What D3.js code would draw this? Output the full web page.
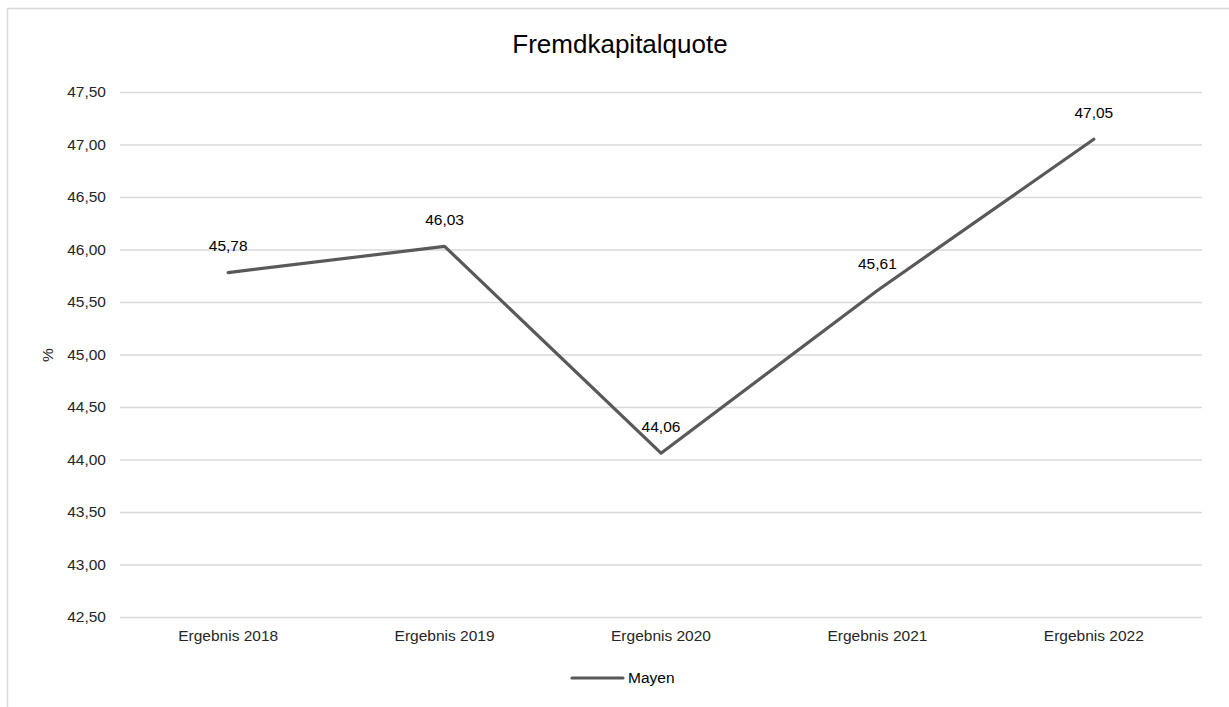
<!DOCTYPE html>
<html>
<head>
<meta charset="utf-8">
<script src="https://cdn.jsdelivr.net/npm/d3@7"></script>
<style>
  body { margin: 0; background: #fff; }
  svg { display: block; font-family: "Liberation Sans", Arial, sans-serif; }
</style>
</head>
<body>
<svg id="chart" width="1229" height="707"></svg>
<script>
// DATA
const categories = ["Ergebnis 2018", "Ergebnis 2019", "Ergebnis 2020", "Ergebnis 2021", "Ergebnis 2022"];
const values = [45.78, 46.03, 44.06, 45.61, 47.05];
const yTicks = [42.5, 43, 43.5, 44, 44.5, 45, 45.5, 46, 46.5, 47, 47.5];
const seriesName = "Mayen";
const title = "Fremdkapitalquote";

// CANVAS SETUP
const svg = d3.select("#chart");
const margin = { top: 92, right: 27, bottom: 90, left: 120 },
  width = 1229 - margin.left - margin.right,
  height = 707 - margin.top - margin.bottom;

const fs = 15.5;
const fmt = (v) => d3.format(".2f")(v).replace(".", ",");

// chart border (left and top visible)
svg.append("line").attr("x1", 7.5).attr("x2", 7.5).attr("y1", 8).attr("y2", 707)
  .attr("stroke", "#d9d9d9").attr("stroke-width", 1.5);
svg.append("line").attr("x1", 7).attr("x2", 1229).attr("y1", 8.5).attr("y2", 8.5)
  .attr("stroke", "#d9d9d9").attr("stroke-width", 1.5);

const g = svg.append("g").attr("transform", `translate(${margin.left},${margin.top})`);

const x = d3.scaleBand().domain(categories).range([0, width]);
const y = d3.scaleLinear().domain([42.5, 47.5]).range([525, 0]);

// gridlines + y labels
const gy = g.append("g")
  .call(d3.axisLeft(y).tickValues(yTicks).tickSize(-width).tickFormat(fmt).tickPadding(14));
gy.select(".domain").remove();
gy.selectAll(".tick line").attr("stroke", "#d9d9d9").attr("stroke-width", 1.3);
gy.selectAll(".tick text").attr("font-size", fs).attr("fill", "#262626")
  .attr("font-family", "Liberation Sans, Arial, sans-serif");

// x labels
const gx = g.append("g").attr("transform", `translate(0,525)`)
  .call(d3.axisBottom(x).tickSize(0).tickPadding(13));
gx.select(".domain").remove();
gx.selectAll(".tick text").attr("font-size", fs).attr("fill", "#262626")
  .attr("font-family", "Liberation Sans, Arial, sans-serif");

// line
const line = d3.line()
  .x((d, i) => x(categories[i]) + x.bandwidth() / 2)
  .y((d) => y(d));

g.append("path").datum(values)
  .attr("fill", "none").attr("stroke", "#595959").attr("stroke-width", 3.2)
  .attr("stroke-linejoin", "round").attr("stroke-linecap", "round")
  .attr("d", line);

// data labels
g.selectAll(".dl").data(values).join("text")
  .attr("class", "dl")
  .attr("x", (d, i) => x(categories[i]) + x.bandwidth() / 2)
  .attr("y", (d) => y(d) - 21.5)
  .attr("text-anchor", "middle")
  .attr("font-size", fs).attr("fill", "#000")
  .text(fmt);

// title
svg.append("text").attr("x", 620).attr("y", 53)
  .attr("text-anchor", "middle").attr("font-size", 26).attr("fill", "#000")
  .text(title);

// y axis title
svg.append("text").attr("transform", "translate(53,355) rotate(-90)")
  .attr("text-anchor", "middle").attr("font-size", fs).attr("fill", "#262626")
  .text("%");

// legend
svg.append("line").attr("x1", 572).attr("x2", 623).attr("y1", 678).attr("y2", 678)
  .attr("stroke", "#595959").attr("stroke-width", 3.2).attr("stroke-linecap", "round");
svg.append("text").attr("x", 628).attr("y", 683).attr("font-size", fs).attr("fill", "#000")
  .text(seriesName);
</script>
</body>
</html>
